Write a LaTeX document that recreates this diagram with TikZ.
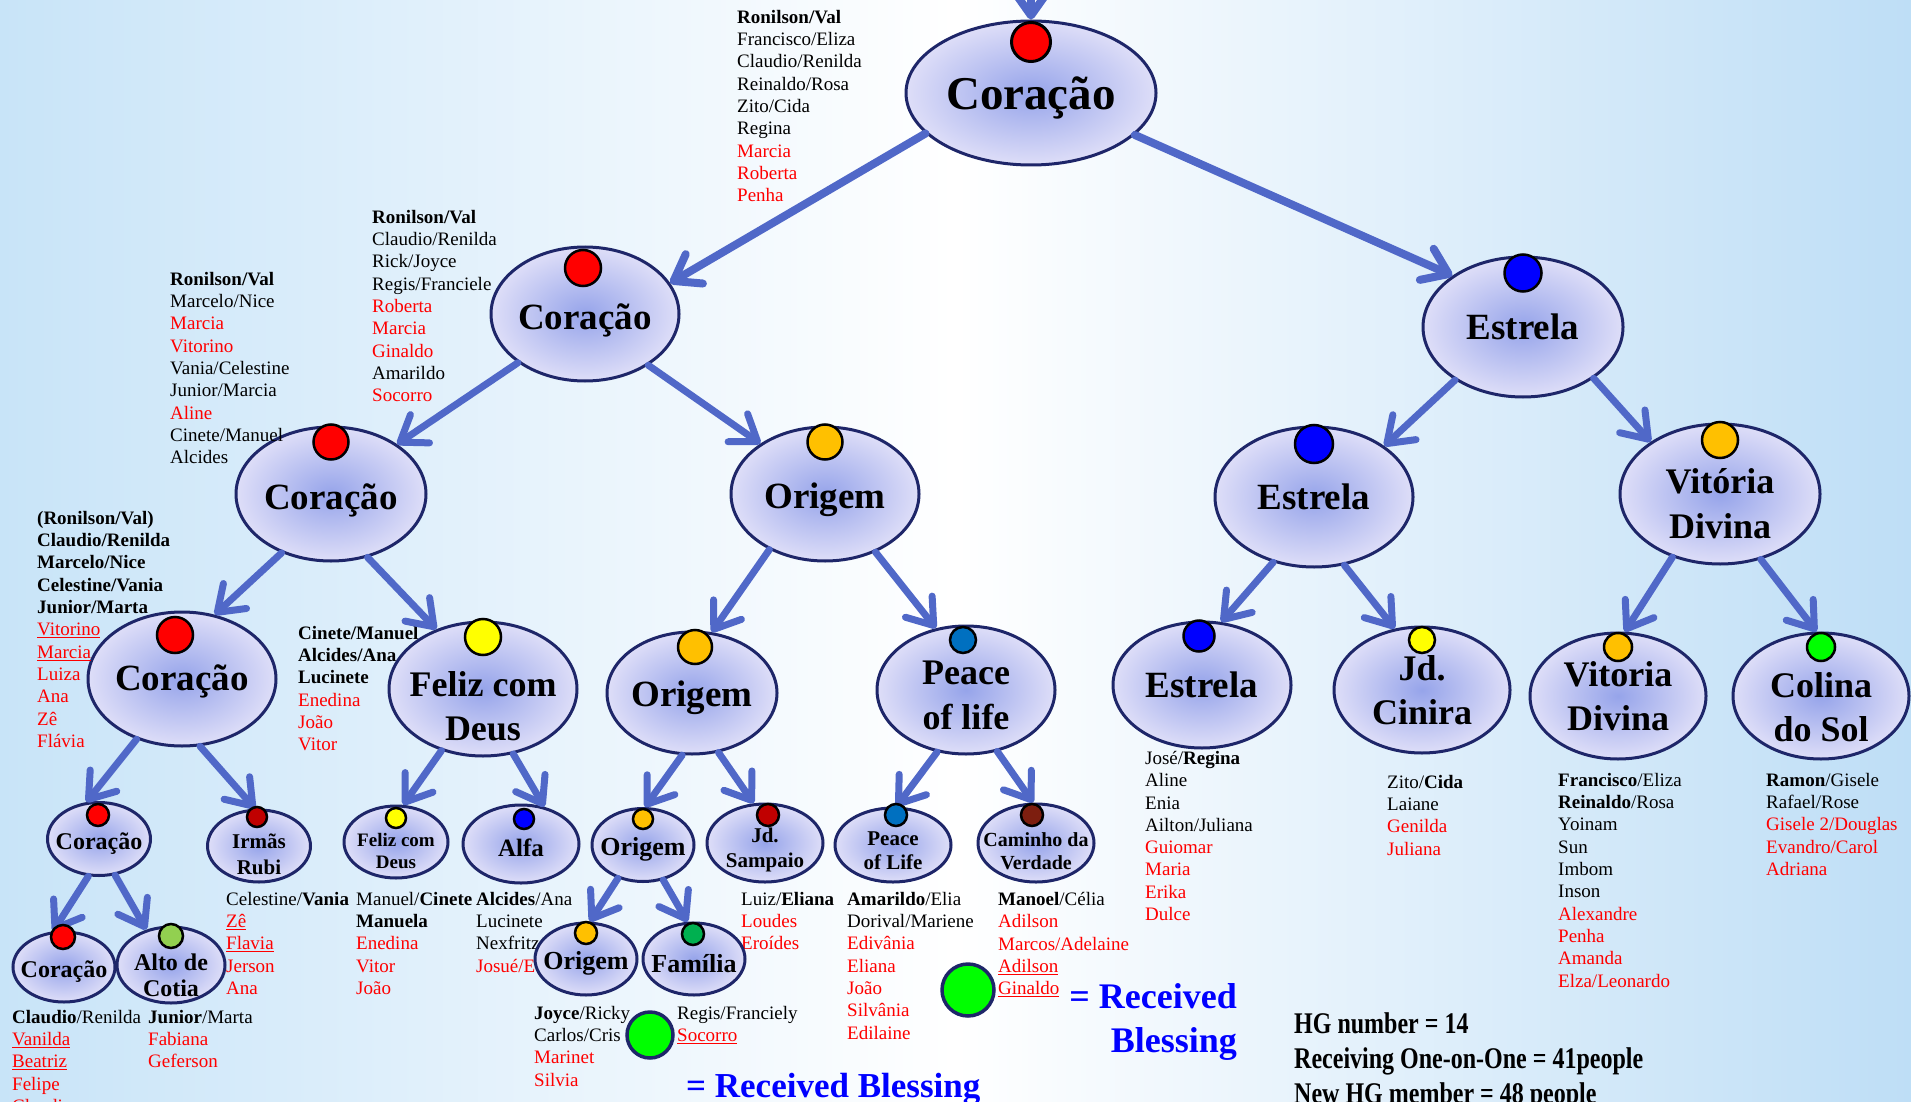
\documentclass[tikz,border=0pt]{standalone}
\usepackage{fontspec}
\setmainfont{Liberation Serif}
\usepackage{graphicx}
\usetikzlibrary{shapes.geometric,arrows.meta}

\newlength{\du}
\setlength{\du}{1pt}

\definecolor{hgblue}{RGB}{80,104,200}
\definecolor{hgnavy}{RGB}{30,38,105}
\definecolor{hginner}{RGB}{150,164,234}
\definecolor{hgouter}{RGB}{222,222,248}
\definecolor{bgleft}{RGB}{200,228,248}
\definecolor{bgright}{RGB}{190,222,246}
\definecolor{dotred}{RGB}{255,0,0}
\definecolor{dotblue}{RGB}{0,0,255}
\definecolor{dotorange}{RGB}{255,192,0}
\definecolor{dotyellow}{RGB}{255,255,0}
\definecolor{dotsky}{RGB}{0,112,192}
\definecolor{dotdark}{RGB}{192,0,0}
\definecolor{dotbrown}{RGB}{125,30,15}
\definecolor{dotlight}{RGB}{146,208,80}
\definecolor{dotgreen}{RGB}{0,176,80}
\definecolor{dotlime}{RGB}{0,255,0}
\definecolor{blessblue}{RGB}{0,0,255}

\newcommand{\fsz}[2]{\fontsize{#1}{#2}\selectfont}
\newcommand{\rd}[1]{\textcolor{red}{#1}}
\newcommand{\rdu}[1]{\textcolor{red}{\underline{#1}}}
\newcommand{\pad}[1]{\rule{0pt}{#1pt}}

\tikzset{
  hgcell/.style n args={4}{ellipse, draw=hgnavy, line width=3\du,
    inner color=hginner, outer color=hgouter, inner sep=-45pt, align=center,
    minimum width=#1\du, minimum height=#2\du, font=\bfseries\fsz{#3}{#4}},
  hglink/.style={draw=hgblue, line width=7\du, line cap=round,
    -{Straight Barb[length=24pt, width=34pt, round]}},
  toplink/.style={hglink, line width=8\du},
  gdot/.style={circle, draw=black, line width=2.5\du, inner sep=0pt},
  bless/.style={circle, draw=hgnavy, line width=3.5\du, fill=dotlime, inner sep=0pt},
  hgnames/.style={anchor=north west, align=left, inner sep=0pt, font=\fsz{19}{22.3}}
}

\begin{document}
\begin{tikzpicture}
\pgftransformxscale{1.000000}
\pgftransformyscale{-1.000000}
\useasboundingbox (0\du,0\du) rectangle (1911\du,1102\du);
\fill[left color=bgleft, right color=bgright, middle color=white] (0\du,0\du) rectangle (1911\du,1102\du);

% level 0
\node[hgcell={250}{144}{47}{52}] (top) at (1031\du,93\du) {\pad{42}Coração};
% level 1
\node[hgcell={188}{134}{37}{44}] (c1) at (585\du,314\du) {\pad{38}Coração};
\node[hgcell={200}{140}{37}{44}] (e1) at (1523\du,327\du) {Estrela};
% level 2
\node[hgcell={190}{134}{37}{44}] (c2) at (331\du,494\du) {\pad{38}Coração};
\node[hgcell={188}{134}{37}{44}] (o2) at (825\du,494\du) {\pad{37}Origem};
\node[hgcell={198}{140}{37}{44}] (e2) at (1314\du,497\du) {Estrela};
\node[hgcell={200}{140}{36}{45}] (v2) at (1720\du,494\du) {\pad{45}Vitória\\Divina};
% level 3
\node[hgcell={188}{134}{37}{44}] (c3) at (182\du,679\du) {\pad{31}Coração};
\node[hgcell={188}{134}{36}{44}] (f3) at (483\du,689\du) {\pad{59}Feliz com\\Deus};
\node[hgcell={170}{122}{37}{44}] (o3) at (692\du,693\du) {\pad{35}Origem};
\node[hgcell={178}{128}{36}{45}] (p3) at (966\du,690\du) {\pad{34}Peace\\of life};
\node[hgcell={178}{126}{37}{44}] (e3) at (1202\du,685\du) {Estrela};
\node[hgcell={176}{126}{36}{44}] (j3) at (1422\du,690\du) {Jd.\\Cinira};
\node[hgcell={176}{126}{36}{44}] (v3) at (1618\du,696\du) {Vitoria\\Divina};
\node[hgcell={176}{126}{36}{44}] (s3) at (1821\du,696\du) {\pad{47}Colina\\do Sol};
% level 4
\node[hgcell={103}{73}{24}{28}] (c4) at (99\du,839\du) {\pad{26}Coração};
\node[hgcell={103}{72}{21}{26}] (r4) at (259\du,846\du) {\pad{31}Irmãs\\Rubi};
\node[hgcell={104}{72}{19}{22}] (f4) at (396\du,842\du) {\pad{31}Feliz com\\Deus};
\node[hgcell={116}{78}{25}{28}] (a4) at (521\du,844\du) {\pad{26}Alfa};
\node[hgcell={102}{73}{26}{28}] (o4) at (643\du,845\du) {\pad{26}Origem};
\node[hgcell={116}{78}{21}{25}] (jd4) at (765\du,843\du) {\pad{29}Jd.\\Sampaio};
\node[hgcell={116}{74}{21}{24}] (p4) at (893\du,845\du) {\pad{25}Peace\\of Life};
\node[hgcell={116}{78}{20}{23}] (cv4) at (1036\du,843\du) {\pad{30}Caminho da\\Verdade};

% names
\node[hgnames] (lstA) at (737\du,10\du) {\textbf{Ronilson/Val}\\Francisco/Eliza\\Claudio/Renilda\\Reinaldo/Rosa\\Zito/Cida\\Regina\\\rd{Marcia}\\\rd{Roberta}\\\rd{Penha}};
\node[hgnames] (lstB) at (372\du,210\du) {\textbf{Ronilson/Val}\\Claudio/Renilda\\Rick/Joyce\\Regis/Franciele\\\rd{Roberta}\\\rd{Marcia}\\\rd{Ginaldo}\\Amarildo\\\rd{Socorro}};
\node[hgnames] (lstC) at (170\du,272\du) {\textbf{Ronilson/Val}\\Marcelo/Nice\\\rd{Marcia}\\\rd{Vitorino}\\Vania/Celestine\\Junior/Marcia\\\rd{Aline}\\Cinete/Manuel\\Alcides};
\node[hgnames] (lstD) at (37\du,511\du) {\textbf{(Ronilson/Val)}\\\textbf{Claudio/Renilda}\\\textbf{Marcelo/Nice}\\\textbf{Celestine/Vania}\\\textbf{Junior/Marta}\\\rdu{Vitorino}\\\rdu{Marcia}\\\rd{Luiza}\\\rd{Ana}\\\rd{Zê}\\\rd{Flávia}};
\node[hgnames] (lstE) at (298\du,626\du) {\textbf{Cinete/Manuel}\\\textbf{Alcides/Ana}\\\textbf{Lucinete}\\\rd{Enedina}\\\rd{João}\\\rd{Vitor}};
\node[hgnames] (lstF) at (12\du,1010\du) {\textbf{Claudio}/Renilda\\\rdu{Vanilda}\\\rdu{Beatriz}\\\rd{Felipe}\\\rd{Claudia}};
\node[hgnames] (lstG) at (148\du,1010\du) {\textbf{Junior}/Marta\\\rd{Fabiana}\\\rd{Geferson}};
\node[hgnames] (lstH) at (226\du,892\du) {Celestine/\textbf{Vania}\\\rdu{Zê}\\\rdu{Flavia}\\\rd{Jerson}\\\rd{Ana}};
\node[hgnames] (lstI) at (356\du,892\du) {Manuel/\textbf{Cinete}\\\textbf{Manuela}\\\rd{Enedina}\\\rd{Vitor}\\\rd{João}};
\node[hgnames] (lstJ) at (476\du,892\du) {\textbf{Alcides}/Ana\\Lucinete\\Nexfritz\\\rd{Josué/E}};
\node[hgnames] (lstK) at (741\du,892\du) {Luiz/\textbf{Eliana}\\\rd{Loudes}\\\rd{Eroídes}};
\node[hgnames] (lstL) at (847\du,892\du) {\textbf{Amarildo}/Elia\\Dorival/Mariene\\\rd{Edivânia}\\\rd{Eliana}\\\rd{João}\\\rd{Silvânia}\\\rd{Edilaine}};
\node[hgnames] (lstM) at (998\du,892\du) {\textbf{Manoel}/Célia\\\rd{Adilson}\\\rd{Marcos/Adelaine}\\\rdu{Adilson}\\\rdu{Ginaldo}};
\node[hgnames] (lstN) at (534\du,1006\du) {\textbf{Joyce}/Ricky\\Carlos/Cris\\\rd{Marinet}\\\rd{Silvia}};
\node[hgnames] (lstO) at (677\du,1006\du) {Regis/Franciely\\\rdu{Socorro}};
\node[hgnames] (lstP) at (1145\du,751\du) {José/\textbf{Regina}\\Aline\\Enia\\Ailton/Juliana\\\rd{Guiomar}\\\rd{Maria}\\\rd{Erika}\\\rd{Dulce}};
\node[hgnames] (lstQ) at (1387\du,775\du) {Zito/\textbf{Cida}\\Laiane\\\rd{Genilda}\\\rd{Juliana}};
\node[hgnames] (lstR) at (1558\du,773\du) {\textbf{Francisco}/Eliza\\\textbf{Reinaldo}/Rosa\\Yoinam\\Sun\\Imbom\\Inson\\\rd{Alexandre}\\\rd{Penha}\\\rd{Amanda}\\\rd{Elza/Leonardo}};
\node[hgnames] (lstS) at (1766\du,773\du) {\textbf{Ramon}/Gisele\\Rafael/Rose\\\rd{Gisele 2/Douglas}\\\rd{Evandro/Carol}\\\rd{Adriana}};

% level 5
\node[hgcell={102}{70}{24}{28}] (c5) at (64\du,967\du) {\pad{26}Coração};
\node[hgcell={108}{76}{24}{26}] (alto) at (171\du,965\du) {\pad{37}Alto de\\Cotia};
\node[hgcell={102}{72}{26}{28}] (o5) at (586\du,959\du) {\pad{27}Origem};
\node[hgcell={102}{72}{26}{28}] (fam) at (694\du,959\du) {\pad{27}Família};

% arrows
\coordinate (feed) at (1031\du,-50\du);
\draw[toplink] (feed) -- (top.90);
\draw[toplink] (top.201) -- (c1.20);
\draw[toplink] (top.338) -- (e1.144);
\draw[hglink] (c1.216) -- (c2.37);
\draw[hglink] (c1.321) -- (o2.142);
\draw[hglink] (e1.218) -- (e2.36);
\draw[hglink] (e1.324) -- (v2.143);
\draw[hglink] (c2.230) -- (c3.63);
\draw[hglink] (c2.300) -- (f3.128);
\draw[hglink] (o2.225) -- (o3.72);
\draw[hglink] (o2.311) -- (p3.116);
\draw[hglink] (e2.238) -- (e3.73);
\draw[hglink] (e2.294) -- (j3.114);
\draw[hglink] (v2.233) -- (v3.84);
\draw[hglink] (v2.302) -- (s3.94);
\draw[hglink] (c3.233) -- (c4.109);
\draw[hglink] (c3.285) -- (r4.96);
\draw[hglink] (f3.236) -- (f4.79);
\draw[hglink] (f3.295) -- (a4.58);
\draw[hglink] (o3.261) -- (o4.87);
\draw[hglink] (o3.294) -- (jd4.106);
\draw[hglink] (p3.245) -- (p4.85);
\draw[hglink] (p3.297) -- (cv4.94);
\draw[hglink] (c4.254) -- (c5.107);
\draw[hglink] (c4.294) -- (alto.125);
\draw[hglink] (o4.233) -- (o5.84);
\draw[hglink] (o4.300) -- (fam.100);

% dots
\node[gdot, fill=dotred, minimum size=39\du, line width=3\du] (topdot) at (1031\du,42\du) {};
\node[gdot, fill=dotred, minimum size=36\du] (c1dot) at (583\du,268\du) {};
\node[gdot, fill=dotblue, minimum size=37\du] (e1dot) at (1523\du,273\du) {};
\node[gdot, fill=dotred, minimum size=35\du] (c2dot) at (331\du,442\du) {};
\node[gdot, fill=dotorange, minimum size=35\du] (o2dot) at (825\du,442\du) {};
\node[gdot, fill=dotblue, minimum size=38\du] (e2dot) at (1314\du,444\du) {};
\node[gdot, fill=dotorange, minimum size=36\du] (v2dot) at (1720\du,440\du) {};
\node[gdot, fill=dotred, minimum size=36\du] (c3dot) at (175\du,635\du) {};
\node[gdot, fill=dotyellow, minimum size=36\du] (f3dot) at (483\du,637\du) {};
\node[gdot, fill=dotorange, minimum size=34\du] (o3dot) at (695\du,647\du) {};
\node[gdot, fill=dotsky, minimum size=26\du] (p3dot) at (963\du,640\du) {};
\node[gdot, fill=dotblue, minimum size=31\du] (e3dot) at (1199\du,636\du) {};
\node[gdot, fill=dotyellow, minimum size=26\du] (j3dot) at (1422\du,640\du) {};
\node[gdot, fill=dotorange, minimum size=28\du] (v3dot) at (1618\du,647\du) {};
\node[gdot, fill=dotlime, minimum size=28\du] (s3dot) at (1821\du,647\du) {};
\node[gdot, fill=dotred, minimum size=22\du] (c4dot) at (98\du,815\du) {};
\node[gdot, fill=dotdark, minimum size=20\du] (r4dot) at (257\du,817\du) {};
\node[gdot, fill=dotyellow, minimum size=20\du] (f4dot) at (396\du,818\du) {};
\node[gdot, fill=dotblue, minimum size=20\du] (a4dot) at (524\du,819\du) {};
\node[gdot, fill=dotorange, minimum size=20\du] (o4dot) at (643\du,819\du) {};
\node[gdot, fill=dotdark, minimum size=22\du] (jd4dot) at (768\du,815\du) {};
\node[gdot, fill=dotsky, minimum size=22\du] (p4dot) at (896\du,815\du) {};
\node[gdot, fill=dotbrown, minimum size=22\du] (cv4dot) at (1032\du,815\du) {};
\node[gdot, fill=dotred, minimum size=24\du] (c5dot) at (63\du,937\du) {};
\node[gdot, fill=dotlight, minimum size=24\du] (altodot) at (171\du,936\du) {};
\node[gdot, fill=dotorange, minimum size=22\du] (o5dot) at (586\du,933\du) {};
\node[gdot, fill=dotgreen, minimum size=22\du] (famdot) at (693\du,934\du) {};

% legend
\node[bless, minimum size=46\du] (bless1) at (650\du,1035\du) {};
\node[anchor=north west, inner sep=0pt, text=blessblue, font=\bfseries\fsz{35}{42}] (blesstxt1) at (686\du,1073\du) {= Received Blessing};
\node[bless, minimum size=52\du] (bless2) at (968\du,990\du) {};
\node[anchor=north east, align=right, inner sep=0pt, text=blessblue, font=\bfseries\fsz{36}{44}] (blesstxt2) at (1237\du,983\du) {= Received\\Blessing};

% totals
\node[anchor=north west, align=left, inner sep=0pt, font=\bfseries\fsz{24}{35}] (stats) at (1294\du,1012\du) {\scalebox{1}[1.25]{HG number = 14}\\\scalebox{1}[1.25]{Receiving One-on-One = 41people}\\\scalebox{1}[1.25]{New HG member = 48 people}};
\end{tikzpicture}
\end{document}
